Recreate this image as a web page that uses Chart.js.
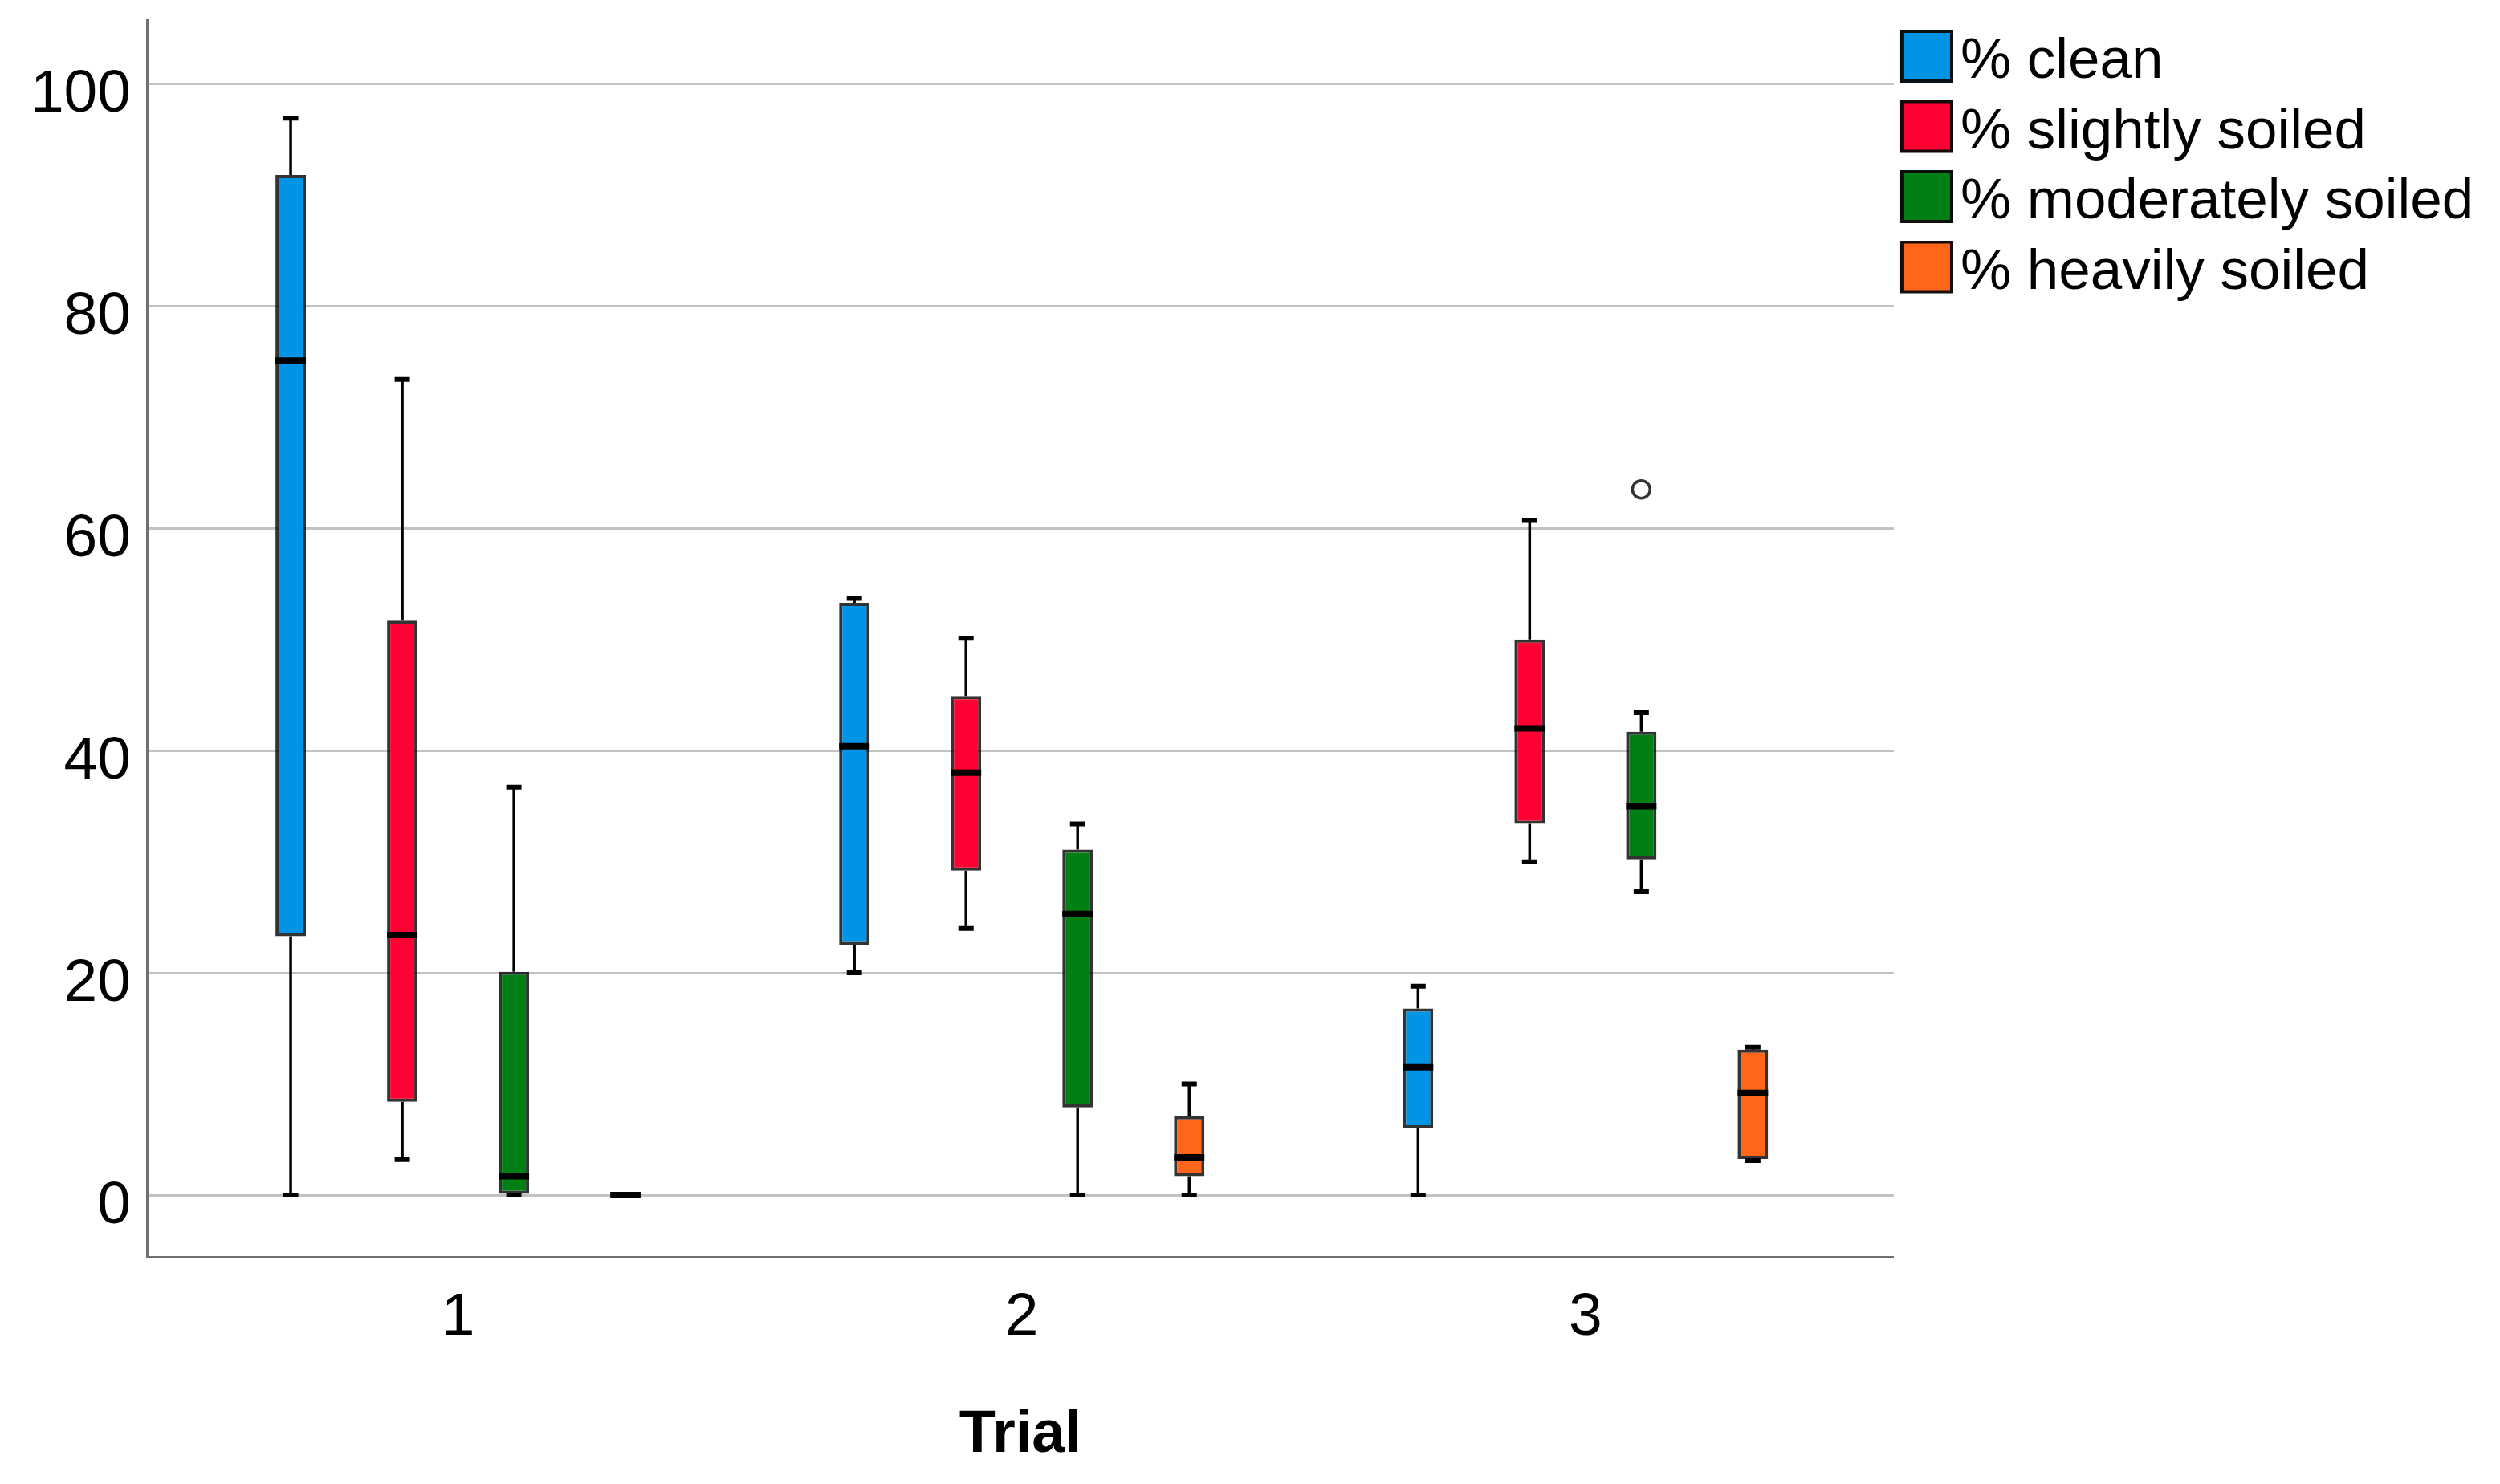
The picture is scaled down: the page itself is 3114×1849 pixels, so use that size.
<!DOCTYPE html>
<html>
<head>
<meta charset="utf-8">
<script src="https://cdn.jsdelivr.net/npm/chart.js@4.4.1/dist/chart.umd.min.js"></script>
<style>
html, body { margin: 0; padding: 0; background: #ffffff; }
#wrap { width: 3114px; height: 1849px; position: relative; }
</style>
</head>
<body>
<div id="wrap"><canvas id="chart"></canvas></div>
<script>
// ---- data ----
const categories = ['1', '2', '3'];
const seriesNames = ['% clean', '% slightly soiled', '% moderately soiled', '% heavily soiled'];
const yTicks = [0, 20, 40, 60, 80, 100];

const cleanMin = [0, 20.0, 0];
const cleanQ1  = [23.3, 22.5, 6.0];
const cleanMed = [75.1, 40.4, 11.5];
const cleanQ3  = [91.8, 53.3, 16.8];
const cleanMax = [96.9, 53.7, 18.8];
const cleanOut = [[], [], []];

const slightMin = [3.2, 24.0, 30.0];
const slightQ1  = [8.4, 29.2, 33.4];
const slightMed = [23.4, 38.0, 42.0];
const slightQ3  = [51.7, 44.9, 50.0];
const slightMax = [73.4, 50.1, 60.7];
const slightOut = [[], [], []];

const modMin = [0, 0, 27.3];
const modQ1  = [0, 7.9, 30.2];
const modMed = [1.7, 25.3, 35.0];
const modQ3  = [20.1, 31.1, 41.7];
const modMax = [36.7, 33.4, 43.4];
const modOut = [[], [], [63.5]];

const heavyMin = [0, 0, 3.1];
const heavyQ1  = [0, 1.7, 3.25];
const heavyMed = [0, 3.4, 9.2];
const heavyQ3  = [0, 7.1, 13.1];
const heavyMax = [0, 10.0, 13.3];
const heavyOut = [[], [], []];

// ---- styles ----
const seriesColors = ['#0094e6', '#ff0033', '#008014', '#ff661a'];
const FONT = '"Liberation Sans", Arial, Helvetica, sans-serif';

const stats = [
  {min: cleanMin, q1: cleanQ1, med: cleanMed, q3: cleanQ3, max: cleanMax, out: cleanOut},
  {min: slightMin, q1: slightQ1, med: slightMed, q3: slightQ3, max: slightMax, out: slightOut},
  {min: modMin, q1: modQ1, med: modMed, q3: modQ3, max: modMax, out: modOut},
  {min: heavyMin, q1: heavyQ1, med: heavyMed, q3: heavyQ3, max: heavyMax, out: heavyOut}
];

// legend swatch: square shifted inside the image so it sits where the reference has it
function swatch(color) {
  const dx = 9, dy = 7.5, side = 66;
  const c = document.createElement('canvas');
  c.width = side + 2 * dx;
  c.height = side + 2 * dy;
  const g = c.getContext('2d');
  g.fillStyle = color;
  g.fillRect(2 * dx, 0, side, side);
  g.strokeStyle = 'rgba(10,10,10,0.95)';
  g.lineWidth = 4;
  g.strokeRect(2 * dx + 2, 2, side - 4, side - 4);
  return c;
}
const swatches = seriesColors.map(swatch);

const boxParts = {
  id: 'boxParts',
  beforeDatasetsDraw(chart) {
    const ctx = chart.ctx, ys = chart.scales.y;
    ctx.save();
    ctx.strokeStyle = '#000';
    chart.data.datasets.forEach((ds, k) => {
      const s = ds.stats;
      chart.getDatasetMeta(k).data.forEach((el, i) => {
        const x = el.x;
        const pMin = ys.getPixelForValue(s.min[i]);
        const pQ1 = ys.getPixelForValue(s.q1[i]);
        const pQ3 = ys.getPixelForValue(s.q3[i]);
        const pMax = ys.getPixelForValue(s.max[i]);
        ctx.lineWidth = 3.5;
        ctx.beginPath();
        ctx.moveTo(x, pQ3); ctx.lineTo(x, pMax);
        ctx.moveTo(x, pQ1); ctx.lineTo(x, pMin);
        ctx.stroke();
        const cw = el.width * 0.5;
        ctx.lineWidth = 6;
        ctx.beginPath();
        ctx.moveTo(x - cw / 2, pMax); ctx.lineTo(x + cw / 2, pMax);
        ctx.moveTo(x - cw / 2, pMin); ctx.lineTo(x + cw / 2, pMin);
        ctx.stroke();
      });
    });
    ctx.restore();
  },
  afterDatasetsDraw(chart) {
    const ctx = chart.ctx, ys = chart.scales.y;
    ctx.save();
    chart.data.datasets.forEach((ds, k) => {
      const s = ds.stats;
      chart.getDatasetMeta(k).data.forEach((el, i) => {
        const x = el.x, w = el.width;
        const pMed = ys.getPixelForValue(s.med[i]);
        ctx.strokeStyle = '#000';
        ctx.lineWidth = 8;
        ctx.beginPath();
        ctx.moveTo(x - w / 2, pMed); ctx.lineTo(x + w / 2, pMed);
        ctx.stroke();
        s.out[i].forEach(v => {
          const py = ys.getPixelForValue(v);
          ctx.beginPath();
          ctx.arc(x, py, 11, 0, Math.PI * 2);
          ctx.fillStyle = '#fff';
          ctx.fill();
          ctx.lineWidth = 3.5;
          ctx.strokeStyle = '#333';
          ctx.stroke();
        });
      });
    });
    ctx.restore();
  }
};

new Chart(document.getElementById('chart'), {
  type: 'bar',
  data: {
    datasets: stats.map((s, k) => ({
      label: seriesNames[k],
      data: categories.map((c, i) => ({x: i, y: [s.q1[i], s.q3[i]]})),
      backgroundColor: seriesColors[k],
      borderColor: 'rgba(0,0,0,0.8)',
      borderWidth: 4,
      borderSkipped: false,
      categoryPercentage: 0.792,
      barPercentage: 0.273,
      stats: s
    }))
  },
  options: {
    responsive: true,
    maintainAspectRatio: false,
    devicePixelRatio: 1,
    animation: false,
    layout: { padding: { left: 17.9, right: 22.8, top: 25.5, bottom: 0 } },
    plugins: {
      tooltip: { enabled: false },
      legend: {
        position: 'right',
        align: 'start',
        labels: {
          usePointStyle: true,
          boxWidth: 31,
          boxHeight: 66,
          padding: 16.5,
          color: '#000',
          font: { family: FONT, size: 71 },
          generateLabels(chart) {
            return chart.data.datasets.map((ds, i) => ({
              text: ds.label,
              fillStyle: seriesColors[i],
              strokeStyle: '#111',
              lineWidth: 0,
              pointStyle: swatches[i],
              hidden: false,
              datasetIndex: i,
              fontColor: '#000'
            }));
          }
        }
      }
    },
    scales: {
      x: {
        type: 'linear',
        min: -0.552,
        max: 2.547,
        offset: false,
        afterBuildTicks(scale) { scale.ticks = categories.map((c, i) => ({value: i})); },
        ticks: {
          callback: (v) => categories[v] !== undefined ? categories[v] : '',
          color: '#000',
          padding: 31,
          font: { family: FONT, size: 75 },
          autoSkip: false,
          maxRotation: 0
        },
        grid: { display: false, drawTicks: false },
        border: { display: true, color: '#707070', width: 3 },
        title: {
          display: true,
          text: 'Trial',
          color: '#000',
          font: { family: FONT, size: 74, weight: 'bold' },
          padding: { top: 26.6, bottom: 15.6 }
        }
      },
      y: {
        type: 'linear',
        min: -5.56,
        max: 105.7,
        afterBuildTicks(scale) { scale.ticks = yTicks.map(v => ({value: v})); },
        ticks: {
          color: '#000',
          padding: 20,
          labelOffset: 14,
          font: { family: FONT, size: 75, lineHeight: 0.133 }
        },
        grid: { color: '#c2c2c2', lineWidth: 3, drawTicks: false },
        border: { display: true, color: '#707070', width: 3 }
      }
    }
  },
  plugins: [boxParts]
});
</script>
</body>
</html>
